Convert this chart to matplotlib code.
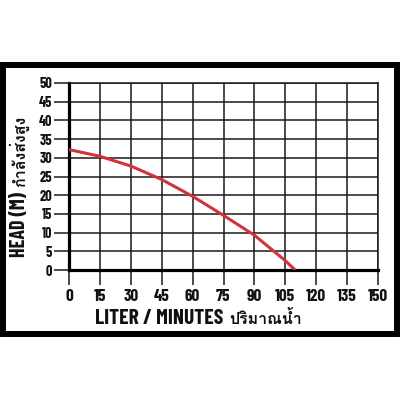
"""Pump performance curve: head (m) against flow (litres per minute)."""
import matplotlib

matplotlib.use("Agg")
import matplotlib.pyplot as plt
import numpy as np
from matplotlib import font_manager, ft2font
from matplotlib.patches import Rectangle

# values
FLOW_LPM = [0, 15, 30, 45, 60, 75, 90, 105, 109.8]
HEAD_M = [32.2, 30.4, 27.8, 24.2, 19.7, 14.6, 9.3, 2.5, 0]
X_TICKS = list(range(0, 151, 15))
Y_TICKS = list(range(0, 51, 5))
X_LABEL = "LITER / MINUTES"
X_LABEL_TH = "ปริมาณน้ำ"
Y_LABEL = "HEAD (M)"
Y_LABEL_TH = "กำลังส่งสูง"

GRID = "#1a1a1a"
CURVE = "#d2323c"
INK = "#111111"
PX = 100 / 72  # pixels per point at dpi 100


def find_thai_font():
    """First installed font file that has Thai glyphs."""
    for path in sorted(font_manager.findSystemFonts()):
        try:
            if 0x0E01 in ft2font.FT2Font(path).get_charmap():
                return path
        except Exception:
            continue
    return font_manager.findfont("DejaVu Sans")


def measure(path, text):
    """Width and height of text's ink, in ems."""
    font = ft2font.FT2Font(path)
    font.set_size(100, 72)
    font.set_text(text, 0.0)
    w, h = font.get_width_height()
    return w / 64 / 100, h / 64 / 100


def is_mono(font):
    adv_i = font.load_char(ord("I")).linearHoriAdvance
    adv_m = font.load_char(ord("M")).linearHoriAdvance
    return adv_i == adv_m


def find_narrow_heavy(target=6.6):
    """Heavy proportional face whose caps are about as narrow as the reference."""
    best, best_err = None, None
    seen = set()
    for f in font_manager.fontManager.ttflist:
        weight = f.weight if isinstance(f.weight, int) else \
            font_manager.weight_dict.get(f.weight, 400)
        if f.fname in seen or not 600 <= weight <= 900 \
                or "mono" in f.name.lower():
            continue
        seen.add(f.fname)
        try:
            font = ft2font.FT2Font(f.fname)
            cmap = font.get_charmap()
            if not all(ord(c) in cmap for c in "HEADMINUTS0123456789/()"):
                continue
            font.set_size(48, 72)
            if is_mono(font):
                continue
            font.set_text("HEADMINUTES", 0.0)
            font.draw_glyphs_to_bitmap()
            img = np.asarray(font.get_image(), dtype=float) / 255
        except Exception:
            continue
        h, w = img.shape
        if h == 0 or img.mean() < 0.35:
            continue
        err = abs(w / h - target)
        if best_err is None or err < best_err:
            best, best_err = f.fname, err
    return best or font_manager.findfont(
        font_manager.FontProperties(family="DejaVu Sans", weight="bold"))


def fit_size(path, text, cap_px, max_width_px):
    """Point size giving the wanted cap height, shrunk to fit a width."""
    cap = measure(path, "H")[1]
    em_px = cap_px / cap
    width = measure(path, text)[0] * em_px
    if width > max_width_px:
        em_px *= max_width_px / width
    return em_px / PX


def props(path, size):
    return font_manager.FontProperties(fname=path, size=size)


thai = find_thai_font()
bold = find_narrow_heavy()

fig = plt.figure(figsize=(4, 4), dpi=100)
fig.patch.set_facecolor("white")

# thick black frame round the chart
fig.add_artist(Rectangle((3 / 400, 1 - 333.5 / 400), 394 / 400, 268.5 / 400,
                         transform=fig.transFigure, fill=False,
                         edgecolor="black", linewidth=4.3))

ax = fig.add_axes([69 / 400, 1 - 270 / 400, 309 / 400, 187 / 400])
ax.set_xlim(0, 150)
ax.set_ylim(0, 50)
ax.set_xticks(X_TICKS)
ax.set_yticks(Y_TICKS)
ax.grid(True, color=GRID, linewidth=1.1)
ax.set_axisbelow(True)

for side in ("top", "right"):
    ax.spines[side].set_linewidth(1.1)
    ax.spines[side].set_color(GRID)
for side in ("left", "bottom"):
    ax.spines[side].set_linewidth(2.3)
    ax.spines[side].set_color("black")

ax.tick_params(axis="both", direction="out", length=10.8, width=1.1,
               color=GRID, labelcolor=INK)
ax.tick_params(axis="y", pad=1.5)
ax.tick_params(axis="x", pad=3)
y_fp = props(bold, fit_size(bold, "50", 10, 15))
x_fp = props(bold, fit_size(bold, "150", 12, 24))
for lab in ax.get_yticklabels():
    lab.set_fontproperties(y_fp)
for lab in ax.get_xticklabels():
    lab.set_fontproperties(x_fp)

ax.plot(FLOW_LPM, HEAD_M, color=CURVE, linewidth=2.2, solid_capstyle="butt",
        zorder=5)

# x title: English in heavy narrow type, Thai after it, pair centred
xl_size = fit_size(bold, X_LABEL, 15, 132)
xl_w = measure(bold, X_LABEL)[0] * xl_size * PX
th_size = 11.5
th_w = measure(thai, X_LABEL_TH)[0] * th_size * PX
x0 = 198.5 - (xl_w + 6 + th_w) / 2
fig.text(x0 / 400, 1 - 324 / 400, X_LABEL, ha="left", va="baseline",
         fontproperties=props(bold, xl_size), color=INK)
fig.text((x0 + xl_w + 6) / 400, 1 - 324 / 400, X_LABEL_TH, ha="left",
         va="baseline", fontproperties=props(thai, th_size), color=INK)

# y title reads upward from the bottom, Thai continuing above
yl_size = fit_size(bold, Y_LABEL, 14, 76)
yl_w = measure(bold, Y_LABEL)[0] * yl_size * PX
fig.text(25 / 400, 1 - 257 / 400, Y_LABEL, rotation=90, rotation_mode="anchor",
         ha="left", va="baseline", fontproperties=props(bold, yl_size),
         color=INK)
fig.text(25 / 400, 1 - (257 - yl_w - 5) / 400, Y_LABEL_TH, rotation=90,
         rotation_mode="anchor", ha="left", va="baseline",
         fontproperties=props(thai, th_size), color=INK)

fig.savefig("out.png", dpi=100)
